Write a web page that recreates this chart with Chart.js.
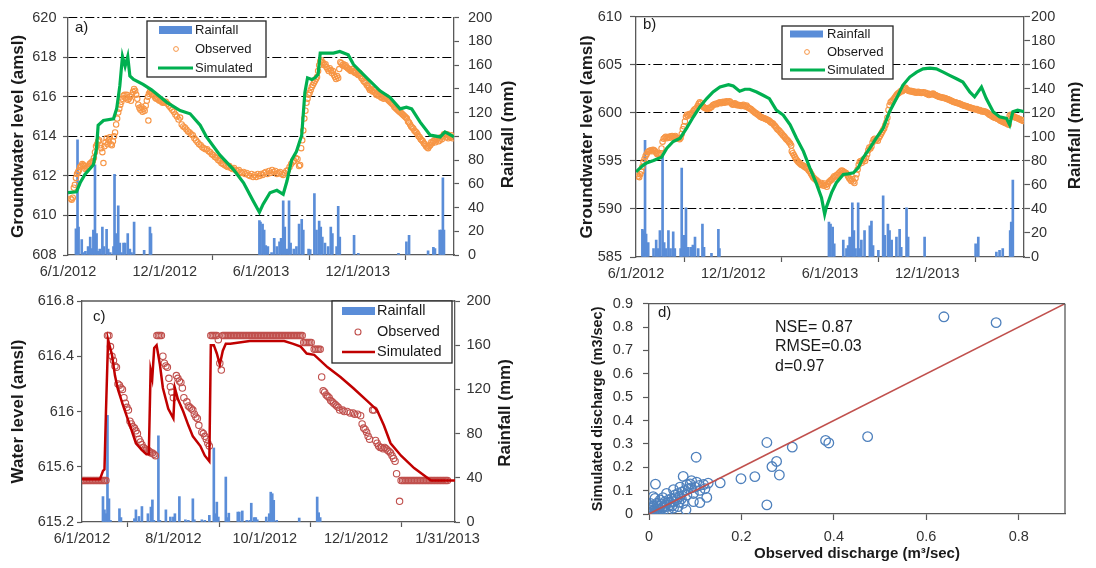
<!DOCTYPE html>
<html><head><meta charset="utf-8">
<script src="https://cdn.jsdelivr.net/npm/chart.js@4.4.1/dist/chart.umd.min.js"></script>
<style>
html,body{margin:0;padding:0;background:#fff;}
#wrap{position:relative;width:1096px;height:568px;overflow:hidden;background:#fff;}
canvas{position:absolute;}
</style></head><body>
<div id="wrap">
<canvas id="ca" width="545" height="285" style="left:0;top:0"></canvas>
<canvas id="cb" width="536" height="285" style="left:560px;top:0"></canvas>
<canvas id="cc" width="545" height="283" style="left:0;top:285px"></canvas>
<canvas id="cd" width="536" height="283" style="left:560px;top:285px"></canvas>
</div>
<script>
// ---------- tick values / labels ----------
const xTicksAB = [0, 183, 365, 548, 730];
const xLabelsAB = ['6/1/2012', '12/1/2012', '6/1/2013', '12/1/2013', ''];
const yTicksA = [608, 610, 612, 614, 616, 618, 620];
const yLabelsA = ['608', '610', '612', '614', '616', '618', '620'];
const yTicksB = [585, 590, 595, 600, 605, 610];
const yLabelsB = ['585', '590', '595', '600', '605', '610'];
const rainTicksAB = [0, 20, 40, 60, 80, 100, 120, 140, 160, 180, 200];
const rainLabelsAB = ['0', '20', '40', '60', '80', '100', '120', '140', '160', '180', '200'];
const xTicksC = [0, 61, 122, 183, 244];
const xLabelsC = ['6/1/2012', '8/1/2012', '10/1/2012', '12/1/2012', '1/31/2013'];
const yTicksC = [615.2, 615.6, 616, 616.4, 616.8];
const yLabelsC = ['615.2', '615.6', '616', '616.4', '616.8'];
const rainTicksC = [0, 40, 80, 120, 160, 200];
const rainLabelsC = ['0', '40', '80', '120', '160', '200'];
const yTicksD = [0, 0.1, 0.2, 0.3, 0.4, 0.5, 0.6, 0.7, 0.8, 0.9];
const yLabelsD = ['0', '0.1', '0.2', '0.3', '0.4', '0.5', '0.6', '0.7', '0.8', '0.9'];
const xTicksD = [0, 0.2, 0.4, 0.6, 0.8];
const xLabelsD = ['0', '0.2', '0.4', '0.6', '0.8'];

// ---------- panel a: [day since 6/1/2012, value] ----------
const rainA = [[15,22],[18,97],[20,23.5],[26,13],[30,2],[33,3],[38,7],[42,15],[45,5.5],[48,21],[51,76],[54,18],[57,3],[60,5],[65,23.5],[68,7],[73,21.6],[76,5],[80,2],[86,7],[88,68],[91,18],[95,41.5],[98,10],[101,2],[105,10],[108,10],[113,18],[117,5],[120,2],[125,27.7],[144,4],[155,23.5],[157,18],[362,29],[364,27.7],[368,26],[371,21],[374,8],[378,7],[385,2],[390,14],[395,7],[400,11],[403,14],[407,45.6],[410,23.5],[414,5],[418,45.6],[421,10],[427,5],[432,7],[437,26],[442,30],[445,21],[455,5],[458,4.5],[466,51.7],[470,21],[475,28.5],[478,23.5],[481,15],[486,10],[492,7],[497,23.5],[500,18],[508,7],[511,41],[514,15],[541,16.6],[549,1.5],[625,1.5],[640,11],[645,16.6],[681,3.6],[691,6.4],[694,5.5],[703,21],[706,21],[709,65],[711,21]];
const simA = [[0,611.15],[16,611.2],[23,611.65],[32,612.07],[48,612.56],[54,613.4],[57,614.56],[67,614.8],[86,614.89],[92,615.39],[98,616.55],[103,618.04],[108,617.54],[113,618.04],[117,617.05],[124,616.88],[142,616.63],[158,616.35],[187,615.72],[212,615.3],[231,615.14],[250,614.56],[262,613.97],[287,613.06],[313,612.32],[332,611.65],[350,610.74],[362,610.16],[369,610.57],[382,611.15],[395,611.27],[407,611.07],[414,611.73],[423,612.81],[432,613.23],[442,614.06],[448,616.22],[453,616.96],[461,616.88],[467,616.96],[473,617.13],[477,618.21],[502,618.21],[514,618.29],[530,618.12],[540,617.63],[565,616.96],[590,616.3],[609,615.97],[628,615.39],[640,615.47],[650,615.39],[666,614.72],[685,614.06],[704,613.97],[713,614.22],[719,614.14],[730,613.97]];
const obsA = [[5,610.85],[7,610.8],[9,610.9],[11,611.4],[13,611.55],[15,611.9],[17,612.1],[19,612.2],[21,612.3],[23,612.45],[25,612.5],[27,612.6],[29,612.55],[31,612.5],[33,612.35],[35,612.4],[37,612.45],[39,612.5],[41,612.6],[43,612.65],[45,612.7],[47,612.75],[49,612.9],[51,613.2],[53,613.5],[55,613.6],[57,613.75],[59,613.8],[61,613.55],[63,613.4],[65,613.2],[67,612.65],[69,613.5],[71,613.7],[73,613.9],[75,613.6],[77,613.8],[79,613.95],[81,613.6],[83,613.55],[85,613.75],[87,614.0],[89,614.2],[91,614.6],[93,614.9],[95,615.2],[97,615.4],[99,615.6],[101,615.75],[103,615.9],[105,616.05],[107,616.1],[109,615.95],[111,616.1],[113,615.85],[115,615.9],[117,616.0],[119,615.8],[121,616.1],[123,616.25],[125,616.4],[127,616.3],[129,616.1],[131,615.9],[133,615.6],[135,615.45],[137,615.35],[139,615.5],[141,615.25],[143,615.4],[145,615.3],[147,615.55],[149,615.8],[151,616.0],[152,614.8],[153,616.15],[155,616.25],[157,616.2],[159,616.15],[161,616.1],[163,616.05],[165,615.95],[167,615.9],[169,615.95],[171,615.85],[173,615.8],[175,615.85],[177,615.75],[179,615.7],[181,615.75],[183,615.7],[185,615.75],[188,615.65],[191,615.55],[194,615.45],[197,615.35],[200,615.25],[203,615.1],[206,615.0],[209,614.85],[212,614.95],[215,614.6],[218,614.5],[221,614.45],[224,614.35],[227,614.25],[230,614.2],[233,614.1],[236,614.05],[239,613.9],[242,613.8],[245,613.7],[248,613.6],[251,613.55],[254,613.45],[257,613.4],[260,613.35],[263,613.35],[266,613.25],[269,613.2],[272,613.1],[275,613.05],[278,612.95],[281,612.9],[284,612.8],[287,612.75],[290,612.65],[293,612.6],[296,612.55],[299,612.5],[302,612.45],[305,612.5],[308,612.4],[311,612.35],[314,612.4],[317,612.3],[320,612.25],[323,612.3],[326,612.2],[329,612.15],[332,612.2],[335,612.1],[338,612.15],[341,612.05],[344,612.0],[347,612.1],[350,611.95],[353,612.05],[356,611.95],[359,612.1],[362,612.0],[365,612.1],[368,612.05],[371,612.15],[374,612.2],[377,612.1],[380,612.25],[383,612.15],[386,612.3],[389,612.2],[392,612.25],[395,612.1],[398,612.15],[401,612.2],[404,612.1],[407,612.05],[410,612.15],[413,612.25],[416,612.3],[419,612.45],[422,612.6],[425,612.7],[428,612.75],[431,612.9],[434,612.85],[437,612.5],[439,612.55],[441,613.4],[443,613.8],[445,614.3],[447,614.9],[449,615.3],[451,615.7],[453,615.9],[455,616.1],[457,616.2],[459,616.35],[461,616.5],[463,616.6],[465,616.7],[467,616.8],[469,616.9],[471,617.0],[473,617.3],[475,617.6],[477,617.8],[479,617.85],[481,617.75],[483,617.7],[485,617.6],[487,617.65],[489,617.5],[491,617.4],[493,617.3],[495,617.45],[497,617.35],[499,617.2],[501,617.3],[503,617.1],[505,617.0],[507,616.9],[509,617.05],[511,616.95],[513,617.4],[515,617.75],[517,617.7],[519,617.6],[521,617.65],[523,617.55],[525,617.6],[527,617.5],[529,617.45],[531,617.4],[533,617.35],[535,617.3],[537,617.4],[539,617.3],[541,617.25],[543,617.2],[545,617.25],[547,617.15],[549,617.1],[551,617.2],[553,617.05],[555,616.95],[557,616.9],[559,616.8],[561,616.75],[563,616.7],[565,616.6],[567,616.55],[569,616.45],[571,616.35],[573,616.4],[575,616.3],[577,616.25],[579,616.35],[581,616.2],[583,616.1],[585,616.15],[587,616.05],[589,616.1],[591,616.0],[593,615.95],[595,616.05],[597,615.9],[599,615.95],[601,616.0],[603,615.95],[605,615.85],[607,615.8],[609,615.75],[611,615.7],[613,615.65],[615,615.6],[617,615.5],[619,615.45],[621,615.4],[623,615.35],[625,615.3],[627,615.25],[629,615.2],[631,615.15],[633,615.1],[635,615.05],[637,615.0],[639,614.95],[641,614.9],[643,614.75],[645,614.7],[647,614.6],[649,614.5],[651,614.45],[653,614.4],[655,614.3],[657,614.25],[659,614.2],[661,614.1],[663,614.0],[665,613.95],[667,613.85],[669,613.8],[671,613.75],[673,613.65],[675,613.6],[677,613.5],[679,613.45],[681,613.4],[683,613.5],[685,613.55],[687,613.7],[689,613.65],[691,613.75],[693,613.8],[695,613.7],[697,613.85],[699,613.9],[701,613.75],[703,613.8],[705,613.95],[707,613.85],[709,614.0],[711,614.1],[713,614.05],[715,613.95],[717,614.1],[719,613.9],[721,614.0],[723,613.95],[725,614.05],[727,613.9],[729,613.95]];

// ---------- panel b ----------
const rainB = [[12,23],[15,22],[17,97],[19,19],[23,12],[33,7],[38,14],[41,7],[45,22],[50,85],[53,12],[56,7],[61,22],[65,7],[70,21],[73,7],[84,7],[86,74],[90,18],[94,41],[98,8],[103,8],[107,10],[111,16.5],[117,7],[125,27.5],[128,8],[142,3],[155,23],[157,7],[363,29],[366,27.5],[370,25],[373,11],[390,14],[396,7],[399,9.6],[402,16.5],[407,45],[410,22],[413,7],[418,45],[421,7],[424,14],[430,22],[440,26],[443,30],[446,9.6],[456,5.5],[465,51],[468,18],[474,27.5],[477,22],[481,14],[490,16.5],[496,23],[499,8],[509,41],[512,16.5],[543,16.5],[639,11],[644,16.5],[678,4],[684,5.5],[690,7],[704,22],[706,29],[709,64]];
const simB = [[0,593.86],[11,594.44],[20,594.79],[33,595.03],[48,595.37],[58,596.33],[70,597.02],[83,597.36],[95,598.39],[108,599.59],[120,600.62],[133,601.48],[145,602.17],[158,602.69],[174,602.93],[183,602.79],[195,602.24],[205,602.45],[214,602.45],[227,602.17],[239,601.83],[251,601.48],[264,600.28],[277,599.77],[290,598.74],[302,597.36],[315,595.99],[327,594.27],[340,592.55],[349,591.18],[355,589.46],[358,590.15],[368,591.7],[377,592.73],[390,593.59],[399,593.65],[409,593.76],[418,594.27],[427,595.3],[440,596.33],[452,597.36],[465,598.39],[477,600.11],[490,601.48],[502,602.86],[515,603.72],[528,604.23],[540,604.57],[553,604.64],[565,604.57],[578,604.23],[590,603.89],[603,603.54],[615,603.2],[628,602.17],[637,601.66],[650,602.69],[659,601.48],[672,600.11],[684,599.59],[697,599.42],[703,598.74],[709,600.11],[718,600.28],[730,600.11]];
const obsB = [[2,593.6],[4,593.4],[6,593.3],[8,593.6],[10,593.9],[12,594.4],[14,594.9],[16,595.2],[18,595.5],[20,595.7],[22,595.9],[24,596.0],[26,596.05],[28,596.1],[30,596.0],[32,596.15],[34,596.1],[36,596.0],[38,595.85],[40,595.7],[42,595.75],[44,595.65],[46,595.8],[48,596.3],[50,597.0],[52,597.3],[54,597.4],[56,597.5],[58,597.35],[60,597.45],[62,597.5],[64,597.4],[66,597.55],[68,597.6],[70,597.45],[72,597.5],[74,597.6],[76,597.4],[78,597.3],[80,597.35],[82,597.25],[84,597.4],[86,597.8],[88,598.3],[90,598.6],[92,599.1],[94,599.6],[96,599.8],[98,599.7],[100,599.85],[102,599.9],[104,599.8],[106,600.0],[108,600.2],[110,600.35],[112,600.4],[114,600.5],[116,600.7],[118,600.95],[120,601.1],[122,601.0],[124,600.8],[126,600.65],[128,600.55],[130,600.5],[132,600.45],[134,600.4],[136,600.5],[138,600.45],[140,600.55],[142,600.6],[144,600.75],[146,600.85],[148,600.9],[150,600.95],[152,600.9],[154,601.0],[156,601.05],[158,601.1],[160,601.0],[162,601.1],[164,601.15],[166,601.05],[168,601.1],[170,601.2],[172,601.1],[174,601.15],[176,601.2],[178,601.1],[180,600.95],[182,600.85],[184,600.9],[186,601.0],[188,600.9],[190,600.8],[192,600.85],[194,600.75],[196,600.8],[198,600.7],[200,600.8],[202,600.85],[204,600.7],[206,600.65],[208,600.75],[210,600.6],[212,600.5],[214,600.45],[216,600.4],[218,600.3],[220,600.2],[222,600.1],[224,600.0],[226,599.95],[228,599.85],[230,599.8],[232,599.7],[234,599.6],[236,599.55],[238,599.5],[240,599.45],[242,599.4],[244,599.35],[246,599.3],[248,599.25],[250,599.2],[252,599.1],[254,599.0],[256,598.95],[258,598.85],[260,598.7],[262,598.6],[264,598.45],[266,598.3],[268,598.2],[270,598.1],[272,597.95],[274,597.85],[276,597.7],[278,597.6],[280,597.45],[282,597.3],[284,597.2],[286,597.1],[288,596.95],[290,596.8],[292,596.6],[293,596.0],[295,595.8],[297,595.6],[299,595.4],[301,595.2],[303,595.05],[305,594.9],[307,594.8],[309,594.7],[311,594.6],[313,594.55],[315,594.5],[317,594.4],[319,594.3],[321,594.25],[323,594.15],[325,594.0],[327,593.9],[329,593.7],[331,593.5],[333,593.3],[335,593.2],[337,593.1],[339,593.0],[341,592.9],[343,592.8],[345,592.6],[347,592.5],[349,592.7],[351,592.55],[353,592.4],[355,592.65],[357,592.5],[359,592.3],[361,592.6],[363,592.8],[365,592.9],[367,593.0],[369,593.1],[371,593.25],[373,593.4],[375,593.35],[377,593.5],[379,593.55],[381,593.7],[383,593.8],[385,593.9],[387,594.0],[389,593.95],[391,593.85],[393,593.8],[395,593.75],[397,593.6],[399,593.4],[401,593.2],[403,593.05],[405,592.9],[407,593.1],[409,592.85],[411,592.7],[413,593.2],[415,593.6],[417,594.1],[419,594.6],[421,594.9],[423,595.0],[425,594.8],[427,595.1],[429,595.2],[431,595.0],[433,595.3],[435,595.7],[437,596.1],[439,596.4],[441,596.3],[443,596.5],[445,596.9],[447,597.2],[449,597.3],[451,597.15],[453,597.25],[455,597.1],[457,597.4],[459,597.6],[461,597.8],[463,598.0],[465,598.2],[467,598.4],[469,598.7],[471,599.0],[473,599.5],[475,600.3],[477,600.8],[479,601.1],[481,601.2],[483,601.3],[485,601.45],[487,601.6],[489,601.75],[491,601.9],[493,602.0],[495,602.1],[497,602.2],[499,602.3],[501,602.25],[503,602.4],[505,602.5],[507,602.6],[509,602.45],[511,602.35],[513,602.3],[515,602.25],[517,602.3],[519,602.2],[521,602.25],[523,602.15],[525,602.2],[527,602.1],[529,602.15],[531,602.2],[533,602.1],[535,602.15],[537,602.05],[539,602.1],[541,602.15],[543,602.05],[545,602.1],[547,601.95],[549,602.0],[551,601.85],[553,601.95],[555,601.9],[557,601.95],[559,602.0],[561,601.9],[563,601.85],[565,601.8],[567,601.75],[569,601.7],[571,601.65],[573,601.65],[575,601.6],[577,601.6],[579,601.55],[581,601.55],[583,601.5],[585,601.45],[587,601.4],[589,601.35],[591,601.3],[593,601.25],[595,601.2],[597,601.15],[599,601.1],[601,601.1],[603,601.05],[605,601.0],[607,601.0],[609,600.95],[611,600.9],[613,600.85],[615,600.8],[617,600.75],[619,600.7],[621,600.7],[623,600.65],[625,600.6],[627,600.55],[629,600.55],[631,600.5],[633,600.45],[635,600.45],[637,600.4],[639,600.35],[641,600.4],[643,600.3],[645,600.25],[647,600.3],[649,600.2],[651,600.15],[653,600.2],[655,600.1],[657,600.15],[659,600.05],[661,600.0],[663,599.9],[665,599.8],[667,599.75],[669,599.7],[671,599.6],[673,599.55],[675,599.5],[677,599.45],[679,599.4],[681,599.35],[683,599.3],[685,599.2],[687,599.15],[689,599.1],[691,599.05],[693,599.0],[695,598.95],[697,598.9],[699,598.85],[701,598.75],[703,599.7],[705,599.8],[707,599.75],[709,599.7],[711,599.6],[713,599.55],[715,599.5],[717,599.45],[719,599.4],[721,599.35],[723,599.3],[725,599.25],[727,599.2],[729,599.15]];

// ---------- panel c ----------
const rainC = [[14,23],[15,11],[16,7.5],[17,96.5],[18,21],[19,1.5],[25,12],[26,4],[35,3],[36,11],[38,5],[40,14],[44,7.5],[46,13.5],[47,20],[48,1.5],[51,78],[52,1.5],[56,11],[59,4.5],[61,4.5],[62,7.5],[65,23],[69,2],[71,1.5],[74,21],[75,2],[80,2],[82,1.5],[85,6],[88,67],[89,7.5],[90,18],[91,4.5],[96,40.7],[97,4],[98,8],[104,9],[105,9],[107,10],[110,1.5],[112,1.5],[113,17],[115,4],[116,4],[117,2],[123,4.5],[125,7.5],[126,27],[127,25.6],[128,19.6],[130,1.5],[145,3.6],[157,22.6],[158,8.4],[159,4]];
const simC = [[0,615.51],[12,615.51],[14,615.57],[15,615.58],[16,616.0],[17.4,616.52],[20,616.41],[22,616.26],[24,616.16],[27.5,616.04],[32,615.9],[36,615.77],[40,615.72],[43,615.69],[44.6,615.69],[45.8,616.3],[46.9,616.24],[48.2,616.46],[49.8,616.48],[52,616.34],[54,616.17],[57.6,616.02],[61,615.95],[62,616.17],[64,616.09],[67.6,616.0],[71,615.9],[74,615.82],[79,615.75],[82,615.68],[85,615.64],[86,616.48],[88,616.48],[90,616.42],[92,616.34],[94,616.44],[96,616.49],[99,616.49],[112,616.51],[135,616.51],[141,616.49],[146,616.47],[150,616.42],[155,616.41],[164,616.32],[172.5,616.25],[181,616.17],[190,616.08],[197,616.01],[201.5,615.9],[206,615.77],[213,615.68],[221.7,615.59],[228,615.54],[233,615.5],[249,615.5]];
const obsC = [[0,615.5],[1,615.5],[2,615.5],[3,615.5],[4,615.5],[5,615.5],[6,615.5],[7,615.5],[8,615.5],[9,615.5],[10,615.5],[11,615.5],[12,615.5],[13,615.5],[14,615.5],[15,615.5],[16,615.5],[17,616.55],[18,616.55],[19,616.47],[20,616.4],[21,616.37],[22,616.33],[23,616.32],[24,616.2],[25,616.19],[26,616.17],[27,616.16],[28,616.1],[29,616.06],[30,616.03],[31,616.01],[32,615.93],[33,615.91],[34,615.89],[35,615.88],[36,615.86],[37,615.84],[38,615.8],[39,615.78],[40,615.76],[41,615.74],[42,615.73],[43,615.72],[44,615.72],[45,615.71],[46,615.7],[47,615.7],[48,615.69],[49,615.68],[50,616.55],[51,616.55],[52,616.55],[53,616.55],[54,616.4],[55,616.35],[56,616.33],[57,616.32],[58,616.24],[59,616.18],[60,616.14],[61,616.1],[63,616.26],[64,616.24],[65,616.22],[66,616.21],[67,616.17],[68,616.1],[70,616.07],[71,616.04],[72,616.03],[73,616.02],[74,616.01],[75,615.98],[76,615.96],[77,615.95],[78,615.9],[80,615.85],[81,615.84],[82,615.82],[83,615.8],[84,615.77],[85,615.75],[86,616.55],[87,616.55],[88,616.55],[89,616.55],[90,616.55],[91,616.52],[92,616.35],[93,616.3],[94,616.55],[95,616.55],[96,616.55],[97,616.55],[98,616.55],[99,616.55],[100,616.55],[101,616.55],[102,616.55],[103,616.55],[104,616.55],[105,616.55],[106,616.55],[107,616.55],[108,616.55],[109,616.55],[110,616.55],[111,616.55],[112,616.55],[113,616.55],[114,616.55],[115,616.55],[116,616.55],[117,616.55],[118,616.55],[119,616.55],[120,616.55],[121,616.55],[122,616.55],[123,616.55],[124,616.55],[125,616.55],[126,616.55],[127,616.55],[128,616.55],[129,616.55],[130,616.55],[131,616.55],[132,616.55],[133,616.55],[134,616.55],[135,616.55],[136,616.55],[137,616.55],[138,616.55],[139,616.55],[140,616.55],[141,616.55],[142,616.55],[143,616.55],[144,616.55],[145,616.55],[146,616.55],[147,616.55],[148,616.5],[149,616.5],[150,616.5],[151,616.5],[152,616.5],[153,616.5],[155,616.45],[156,616.45],[157,616.45],[158,616.45],[159,616.45],[160,616.25],[161,616.15],[162,616.14],[163,616.12],[164,616.11],[165,616.1],[166,616.08],[167,616.07],[168,616.06],[169,616.05],[170,616.04],[171,616.03],[172,616.01],[174,616.01],[175,616.0],[177,616.0],[179,615.99],[181,615.99],[182,615.98],[184,615.98],[186,615.97],[187,615.91],[188,615.88],[189,615.87],[190,615.85],[191,615.82],[192,615.8],[194,616.01],[195,616.01],[196,615.79],[197,615.77],[198,615.75],[199,615.74],[200,615.74],[201,615.73],[202,615.74],[203,615.73],[204,615.72],[205,615.71],[206,615.7],[207,615.68],[208,615.66],[209,615.64],[210,615.55],[212,615.35],[213,615.5],[214,615.5],[215,615.5],[216,615.5],[217,615.5],[218,615.5],[219,615.5],[220,615.5],[221,615.5],[222,615.5],[223,615.5],[224,615.5],[225,615.5],[226,615.5],[227,615.5],[228,615.5],[229,615.5],[230,615.5],[231,615.5],[232,615.5],[233,615.5],[234,615.5],[235,615.5],[236,615.5],[237,615.5],[238,615.5],[239,615.5],[240,615.5],[241,615.5],[242,615.5],[243,615.5],[244,615.5]];

// ---------- panel d: [observed, simulated] discharge ----------
const dischargePairs = [[0.638,0.844],[0.751,0.819],[0.473,0.331],[0.382,0.315],[0.389,0.304],[0.31,0.286],[0.255,0.306],[0.276,0.225],[0.266,0.203],[0.282,0.167],[0.229,0.16],[0.199,0.151],[0.255,0.039],[0.154,0.133],[0.102,0.243],[0.074,0.161],[0.014,0.128],[0.009,0.074],[0.125,0.071],[0.11,0.049],[0.096,0.053],[0.08,0.018],[0.128,0.132],[0.118,0.126],[0.121,0.108],[0.109,0.122],[0.11,0.101],[0.1,0.115],[0.092,0.112],[0.096,0.088],[0.085,0.108],[0.089,0.129],[0.078,0.101],[0.082,0.081],[0.071,0.094],[0.067,0.074],[0.063,0.088],[0.06,0.06],[0.056,0.081],[0.053,0.053],[0.049,0.067],[0.045,0.039],[0.042,0.06],[0.038,0.046],[0.035,0.053],[0.031,0.032],[0.027,0.043],[0.024,0.018],[0.02,0.032],[0.017,0.046],[0.013,0.021],[0.009,0.011],[0.006,0.011],[0.002,0.004],[0.001,0.018],[0.004,0.032],[0.017,0.004],[0.031,0.011],[0.042,0.018],[0.053,0.025],[0.063,0.032],[0.074,0.046],[0.024,0.06],[0.013,0.067],[0.038,0.088],[0.053,0.104],[0.067,0.115],[0.082,0.126],[0.103,0.136],[0.092,0.143],[0.003,0.045],[0.006,0.025],[0.01,0.035],[0.015,0.01],[0.02,0.02],[0.028,0.025],[0.035,0.03],[0.045,0.05],[0.05,0.035],[0.058,0.07],[0.065,0.05],[0.07,0.065],[0.03,0.07],[0.024,0.0],[0.005,0.003]];
const oneToOne = [[0,0],[0.9,0.9]];

// ---------- styling ----------
const FONT = "'Liberation Sans', Arial, sans-serif";
const AXIS = '#595959', TXT = '#333333', TITLE = '#1a1a1a';
const BLUE = '#5A8DD8', ORANGE = '#F79646', GREEN = '#00B050', DRED = '#C00000', RRED = '#C0504D', DBLUE = '#4F81BD';
const pts = a => a.map(p => ({x: p[0], y: p[1]}));

function axis(o) {
  return {
    type: 'linear', position: o.pos, min: o.min, max: o.max, offset: false,
    afterFit: s => { if (o.pos === 'bottom') s.height = o.size; else s.width = o.size; },
    afterBuildTicks: s => { s.ticks = o.ticks.map(v => ({value: v})); },
    ticks: {autoSkip: false, maxRotation: 0, minRotation: 0, padding: o.pad, color: TXT,
      font: {family: FONT, size: o.fs || 14.5}, callback: (v, i) => o.labels[i]},
    grid: {display: true, drawOnChartArea: !!o.gridColor, color: o.gridColor || AXIS, lineWidth: 1,
      drawTicks: true, tickLength: o.tl, tickColor: AXIS, tickWidth: 1.2},
    border: {display: true, color: AXIS, width: 1.3, dash: o.dash || []},
    title: o.title ? {display: true, text: o.title, color: TITLE,
      font: {family: FONT, size: o.tfs, weight: 'bold'}, padding: o.tpad} : {display: false}
  };
}
function skipGrid(vals) {
  return ctx => (ctx.tick && vals.indexOf(ctx.tick.value) >= 0) ? 'rgba(0,0,0,0)' : '#000';
}

const decor = {
  id: 'decor',
  afterDraw(chart, args, o) {
    const ctx = chart.ctx, ca = chart.chartArea;
    ctx.save();
    if (o.frame) {
      ctx.strokeStyle = AXIS; ctx.lineWidth = 1.3; ctx.beginPath();
      if (o.frame.top) { ctx.moveTo(ca.left, ca.top); ctx.lineTo(ca.right, ca.top); }
      if (o.frame.right) { ctx.moveTo(ca.right, ca.top); ctx.lineTo(ca.right, ca.bottom); }
      ctx.stroke();
    }
    if (o.legend) {
      const L = o.legend, b = L.box;
      ctx.fillStyle = '#fff'; ctx.fillRect(b[0], b[1], b[2], b[3]);
      ctx.strokeStyle = '#262626'; ctx.lineWidth = 1.3; ctx.strokeRect(b[0], b[1], b[2], b[3]);
      L.rows.forEach(r => {
        if (r.kind === 'bar') { ctx.fillStyle = r.color; ctx.fillRect(r.x0, r.y - r.h / 2, r.x1 - r.x0, r.h); }
        else if (r.kind === 'point') { ctx.strokeStyle = r.color; ctx.lineWidth = r.lw || 1; ctx.beginPath(); ctx.arc(r.cx, r.y, r.r, 0, Math.PI * 2); ctx.stroke(); }
        else { ctx.strokeStyle = r.color; ctx.lineWidth = r.w; ctx.beginPath(); ctx.moveTo(r.x0, r.y); ctx.lineTo(r.x1, r.y); ctx.stroke(); }
        ctx.fillStyle = '#1a1a1a'; ctx.font = L.font; ctx.textAlign = 'left'; ctx.textBaseline = 'middle';
        ctx.fillText(r.label, L.textX, r.y);
      });
    }
    (o.texts || []).forEach(t => {
      ctx.save(); ctx.font = t.font; ctx.fillStyle = t.color || '#1a1a1a';
      ctx.textAlign = t.align || 'left'; ctx.textBaseline = 'middle';
      ctx.translate(t.x, t.y); if (t.rot) ctx.rotate(t.rot);
      ctx.fillText(t.text, 0, 0); ctx.restore();
    });
    ctx.restore();
  }
};

function baseOptions(padding, decorOpts, scales) {
  return {responsive: false, animation: false, events: [], devicePixelRatio: 1,
    layout: {padding: padding},
    plugins: {legend: {display: false}, tooltip: {enabled: false}, decor: decorOpts},
    scales: scales};
}

// ---------- panel a ----------
new Chart(document.getElementById('ca'), {
  type: 'scatter',
  data: {datasets: [
    {type: 'line', data: pts(simA), borderColor: GREEN, borderWidth: 3.2, pointRadius: 0, tension: 0, yAxisID: 'y', order: 1},
    {type: 'scatter', data: pts(obsA), pointBorderColor: ORANGE, pointBackgroundColor: 'rgba(0,0,0,0)', pointBorderWidth: 1.1, pointRadius: 2.7, yAxisID: 'y', order: 2},
    {type: 'bar', data: pts(rainA), backgroundColor: BLUE, barThickness: 2, yAxisID: 'y2', order: 3}
  ]},
  options: baseOptions({top: 14, left: 0, right: 0, bottom: 0}, {
    texts: [
      {text: 'a)', x: 75, y: 28, font: '15px ' + FONT},
      {text: 'Rainfall (mm)', x: 508, y: 134.5, rot: -Math.PI / 2, align: 'center', font: 'bold 17px ' + FONT}
    ],
    legend: {box: [147, 21, 119, 56], font: '13px ' + FONT, textX: 195, rows: [
      {kind: 'bar', y: 30, x0: 159, x1: 192, h: 8, color: BLUE, label: 'Rainfall'},
      {kind: 'point', y: 49, cx: 176, r: 2.4, color: ORANGE, label: 'Observed'},
      {kind: 'line', y: 68, x0: 158, x1: 193, w: 3, color: GREEN, label: 'Simulated'}]}
  }, {
    x: axis({pos: 'bottom', min: 0, max: 730, ticks: xTicksAB, labels: xLabelsAB, size: 30, tl: 5, pad: 3.3}),
    y: axis({pos: 'left', min: 608, max: 620, ticks: yTicksA, labels: yLabelsA, size: 68, tl: 5, pad: 6.5,
      gridColor: skipGrid([608]), dash: [9, 3, 2, 3], title: 'Groundwater level (amsl)', tfs: 17, tpad: {top: 8, bottom: 0}}),
    y2: axis({pos: 'right', min: 0, max: 200, ticks: rainTicksAB, labels: rainLabelsAB, size: 91, tl: 5, pad: 9})
  }),
  plugins: [decor]
});

// ---------- panel b ----------
new Chart(document.getElementById('cb'), {
  type: 'scatter',
  data: {datasets: [
    {type: 'line', data: pts(simB), borderColor: GREEN, borderWidth: 3.2, pointRadius: 0, tension: 0, yAxisID: 'y', order: 1},
    {type: 'scatter', data: pts(obsB), pointBorderColor: ORANGE, pointBackgroundColor: 'rgba(0,0,0,0)', pointBorderWidth: 1.1, pointRadius: 2.7, yAxisID: 'y', order: 2},
    {type: 'bar', data: pts(rainB), backgroundColor: BLUE, barThickness: 2, yAxisID: 'y2', order: 3}
  ]},
  options: baseOptions({top: 14, left: 0, right: 0, bottom: 0}, {
    frame: {top: true},
    texts: [
      {text: 'b)', x: 83, y: 25, font: '15px ' + FONT},
      {text: 'Rainfall (mm)', x: 515, y: 135.5, rot: -Math.PI / 2, align: 'center', font: 'bold 17px ' + FONT}
    ],
    legend: {box: [222, 26, 111, 53], font: '13px ' + FONT, textX: 267, rows: [
      {kind: 'bar', y: 34, x0: 230, x1: 263, h: 7, color: BLUE, label: 'Rainfall'},
      {kind: 'point', y: 52, cx: 247, r: 2.4, color: ORANGE, label: 'Observed'},
      {kind: 'line', y: 70, x0: 230, x1: 265, w: 3, color: GREEN, label: 'Simulated'}]}
  }, {
    x: axis({pos: 'bottom', min: 0, max: 730, ticks: xTicksAB, labels: xLabelsAB, size: 28, tl: 5, pad: 3}),
    y: axis({pos: 'left', min: 585, max: 610, ticks: yTicksB, labels: yLabelsB, size: 76, tl: 6, pad: 8,
      gridColor: skipGrid([585, 610]), dash: [9, 3, 2, 3], title: 'Groundwater level (amsl)', tfs: 17, tpad: {top: 17, bottom: 0}}),
    y2: axis({pos: 'right', min: 0, max: 200, ticks: rainTicksAB, labels: rainLabelsAB, size: 72, tl: 6, pad: 1})
  }),
  plugins: [decor]
});

// ---------- panel c ----------
new Chart(document.getElementById('cc'), {
  type: 'scatter',
  data: {datasets: [
    {type: 'line', data: pts(simC), borderColor: DRED, borderWidth: 2.5, pointRadius: 0, tension: 0, yAxisID: 'y', order: 1},
    {type: 'scatter', data: pts(obsC), pointBorderColor: RRED, pointBackgroundColor: 'rgba(0,0,0,0)', pointBorderWidth: 1.1, pointRadius: 3.2, yAxisID: 'y', order: 2},
    {type: 'bar', data: pts(rainC), backgroundColor: BLUE, barThickness: 2, yAxisID: 'y2', order: 3}
  ]},
  options: baseOptions({top: 16, left: 0, right: 0, bottom: 0}, {
    frame: {top: true},
    texts: [
      {text: 'c)', x: 93, y: 32, font: '15px ' + FONT},
      {text: 'Rainfall (mm)', x: 505, y: 128, rot: -Math.PI / 2, align: 'center', font: 'bold 17px ' + FONT}
    ],
    legend: {box: [332, 16, 120, 62], font: '14.5px ' + FONT, textX: 377, rows: [
      {kind: 'bar', y: 26, x0: 342, x1: 375, h: 8, color: BLUE, label: 'Rainfall'},
      {kind: 'point', y: 47, cx: 358, r: 3, lw: 1.1, color: RRED, label: 'Observed'},
      {kind: 'line', y: 67, x0: 342, x1: 375, w: 2.5, color: DRED, label: 'Simulated'}]}
  }, {
    x: axis({pos: 'bottom', min: 0, max: 249, ticks: xTicksC, labels: xLabelsC, size: 46, tl: 5, pad: 3}),
    y: axis({pos: 'left', min: 615.2, max: 616.8, ticks: yTicksC, labels: yLabelsC, size: 82, tl: 5, pad: 3,
      title: 'Water level (amsl)', tfs: 17, tpad: {top: 8, bottom: 0}}),
    y2: axis({pos: 'right', min: 0, max: 200, ticks: rainTicksC, labels: rainLabelsC, size: 90, tl: 5, pad: 6.5})
  }),
  plugins: [decor]
});

// ---------- panel d ----------
new Chart(document.getElementById('cd'), {
  type: 'scatter',
  data: {datasets: [
    {type: 'line', data: pts(oneToOne), borderColor: RRED, borderWidth: 1.6, pointRadius: 0, order: 1},
    {type: 'scatter', data: pts(dischargePairs), pointBorderColor: DBLUE, pointBackgroundColor: 'rgba(0,0,0,0)', pointBorderWidth: 1.3, pointRadius: 4.8, order: 2}
  ]},
  options: baseOptions({top: 13, left: 0, right: 31, bottom: 0}, {
    frame: {top: true, right: true},
    texts: [
      {text: 'd)', x: 98, y: 28, font: '15px ' + FONT},
      {text: 'NSE= 0.87', x: 215, y: 43, font: '16px ' + FONT},
      {text: 'RMSE=0.03', x: 215, y: 62, font: '16px ' + FONT},
      {text: 'd=0.97', x: 215, y: 82, font: '16px ' + FONT}
    ]
  }, {
    x: axis({pos: 'bottom', min: 0, max: 0.9, ticks: xTicksD, labels: xLabelsD, size: 54, tl: 6, pad: 8,
      title: 'Observed discharge (m³/sec)', tfs: 15, tpad: {top: 0, bottom: 5}}),
    y: axis({pos: 'left', min: 0, max: 0.9, ticks: yTicksD, labels: yLabelsD, size: 89, tl: 6, pad: 10,
      title: 'Simulated discharge (m3/sec)', tfs: 14.5, tpad: {top: 29, bottom: 0}})
  }),
  plugins: [decor]
});
</script>
</body></html>
